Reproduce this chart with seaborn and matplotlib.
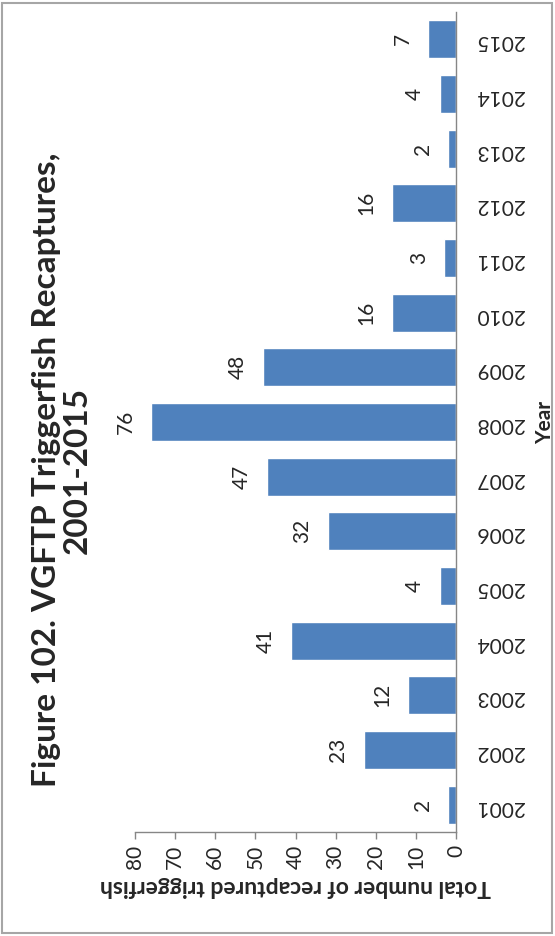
import seaborn as sns
import matplotlib.pyplot as plt
import pandas as pd
from matplotlib.patches import Rectangle

# chart data
years = ['2001', '2002', '2003', '2004', '2005', '2006', '2007', '2008',
         '2009', '2010', '2011', '2012', '2013', '2014', '2015']
recaptures = [2, 23, 12, 41, 4, 32, 47, 76, 48, 16, 3, 16, 2, 4, 7]
value_ticks = [0, 10, 20, 30, 40, 50, 60, 70, 80]

title = 'Figure 102. VGFTP Triggerfish Recaptures,\n2001-2015'
value_label = 'Total number of recaptured triggerfish'
year_label = 'Year'

df = pd.DataFrame({'year': years, 'count': recaptures})

sns.set_style('white')
plt.rcParams['font.family'] = ['Lato', 'DejaVu Sans']
text_color = '#262626'
axis_color = '#868686'

W, H = 555, 936
fig = plt.figure(figsize=(W / 100, H / 100), dpi=100)
# the whole chart is turned a quarter turn: value axis along the bottom, years on the right
ax = fig.add_axes([135 / W, (H - 832) / H, (456 - 135) / W, (832 - 12) / H])

sns.barplot(data=df, x='count', y='year', order=years[::-1], orient='h',
            color='#4F81BD', saturation=1, width=0.7, ax=ax)

ax.set_xlim(80, 0)
ax.set_xticks(value_ticks)
ax.set_xticklabels([str(t) for t in value_ticks], rotation=90)
ax.tick_params(axis='x', direction='out', length=5, width=1, color=axis_color,
               labelsize=15, labelcolor=text_color, pad=4, bottom=True)

ax.yaxis.tick_right()
ax.yaxis.set_label_position('right')
ax.tick_params(axis='y', length=0, pad=14, labelsize=15, labelcolor=text_color,
               labelrotation=180)

for side in ['left', 'top']:
    ax.spines[side].set_visible(False)
for side in ['right', 'bottom']:
    ax.spines[side].set_color(axis_color)
    ax.spines[side].set_linewidth(1)

ax.set_xlabel(value_label, rotation=180, fontsize=16.5, fontweight='bold',
              color=text_color, labelpad=5)
ax.set_ylabel(year_label, rotation=90, fontsize=15, fontweight='bold',
              color=text_color, labelpad=8)

ax.bar_label(ax.containers[0], rotation=90, padding=11, fontsize=15, color=text_color)

fig.text(62 / W, 1 - 470 / H, title, rotation=90, ha='center', va='center',
         fontsize=24, fontweight='bold', color=text_color,
         multialignment='center', linespacing=1.1)

fig.add_artist(Rectangle((2 / W, 3 / H), (W - 5) / W, (H - 6) / H,
                         transform=fig.transFigure, fill=False,
                         edgecolor='#a6a6a6', linewidth=1.5))

fig.savefig('out.png', dpi=100)
